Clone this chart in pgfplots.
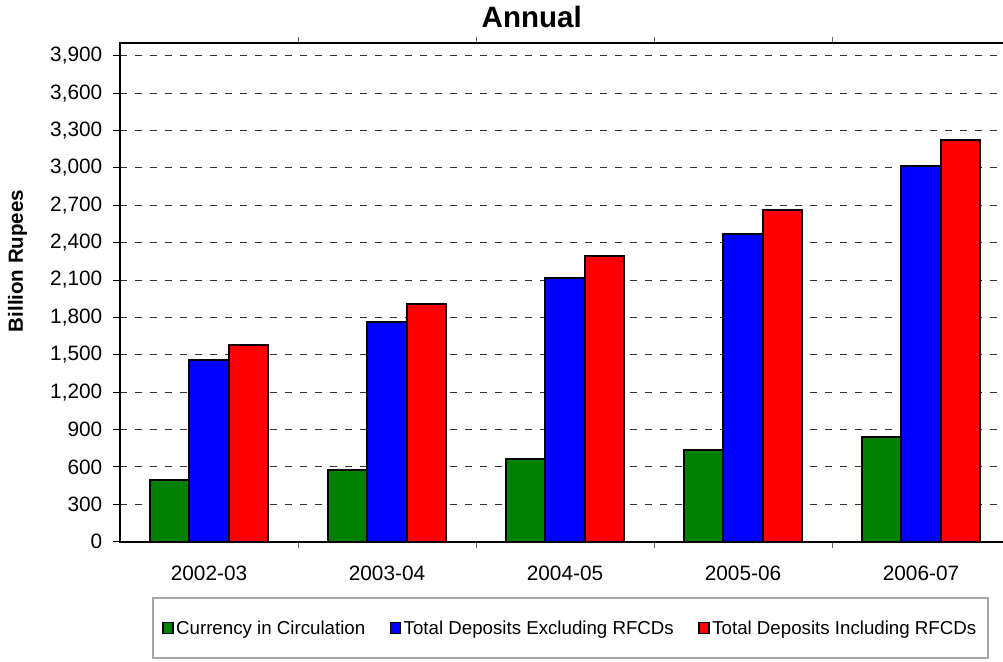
\documentclass[border=0pt]{standalone}
\usepackage{fontspec}
\setmainfont{Liberation Sans}
\usepackage{pgfplots}
\pgfplotsset{compat=1.18}
\begin{document}
\begin{tikzpicture}
\begin{axis}[
  scale only axis, width=890pt, height=498.4pt,
  xmin=-0.5, xmax=4.5, ymin=0, ymax=4000,
  ybar=0pt, bar width=0.221,
  axis line style={black, line width=1.8pt},
  ytick={0,300,...,3900},
  scaled y ticks=false,
  yticklabel style={font=\fontsize{20.8}{24}\selectfont, inner sep=0pt, xshift=-11pt},
  /pgf/number format/.cd, 1000 sep={,}, assume math mode=true, /pgfplots/.cd,
  ymajorgrids, grid style={dash pattern=on 7pt off 8pt, black!80, line width=1pt},
  tick align=outside, major tick length=6.5pt,
  ytick style={black, line width=1pt},
  xtick={0.5,1.5,2.5,3.5}, xticklabels={},
  xtick style={black!60, line width=1pt},
  extra x ticks={0,1,2,3,4},
  extra x tick labels={2002-03,2003-04,2004-05,2005-06,2006-07},
  extra x tick style={major tick length=0pt, xticklabel style={font=\fontsize{20.8}{24}\selectfont, inner sep=0pt, anchor=north, yshift=-24pt}},
  title={Annual},
  title style={font=\fontsize{29.5}{34}\selectfont\bfseries, at={(axis description cs:0.4626,1)}, anchor=base, yshift=10pt},
  ylabel={Billion Rupees},
  ylabel style={font=\fontsize{20.5}{24}\selectfont\bfseries, at={(axis description cs:-0.1152,0.5632)}, anchor=center},
  legend columns=3,
  legend style={draw=none, fill=none, at={(axis description cs:0.5062,-0.1732)}, anchor=center,
    font=\fontsize{18.7}{22}\selectfont,
    nodes={inner xsep=2.5pt, inner ysep=1pt},
    /tikz/every even column/.append style={column sep=22pt}},
  every axis plot post/.append style={legend image code/.code={\draw[#1,draw=black,line width=1.4pt] (0pt,-5.5pt) rectangle (10pt,5.5pt);}},
]
\addplot[fill={rgb,255:red,0;green,128;blue,0}, draw=black, line width=1.9pt]
  coordinates {(0,494) (1,577) (2,665) (3,738) (4,840)};
\addplot[fill={rgb,255:red,0;green,0;blue,255}, draw=black, line width=1.9pt]
  coordinates {(0,1456) (1,1765) (2,2113) (3,2473) (4,3012)};
\addplot[fill={rgb,255:red,255;green,0;blue,0}, draw=black, line width=1.9pt]
  coordinates {(0,1582) (1,1910) (2,2293) (3,2663) (4,3224)};
\legend{Currency in Circulation, Total Deposits Excluding RFCDs, Total Deposits Including RFCDs}
\coordinate (O) at (rel axis cs:0,0);
\end{axis}
\draw[black!35, line width=2.5pt] ([shift={(33pt,-116.3pt)}]O) rectangle ([shift={(868pt,-56.3pt)}]O);
\pgfresetboundingbox
\useasboundingbox ([shift={(-120pt,-119.3pt)}]O) rectangle ([shift={(883pt,541.7pt)}]O);
\end{tikzpicture}
\end{document}
